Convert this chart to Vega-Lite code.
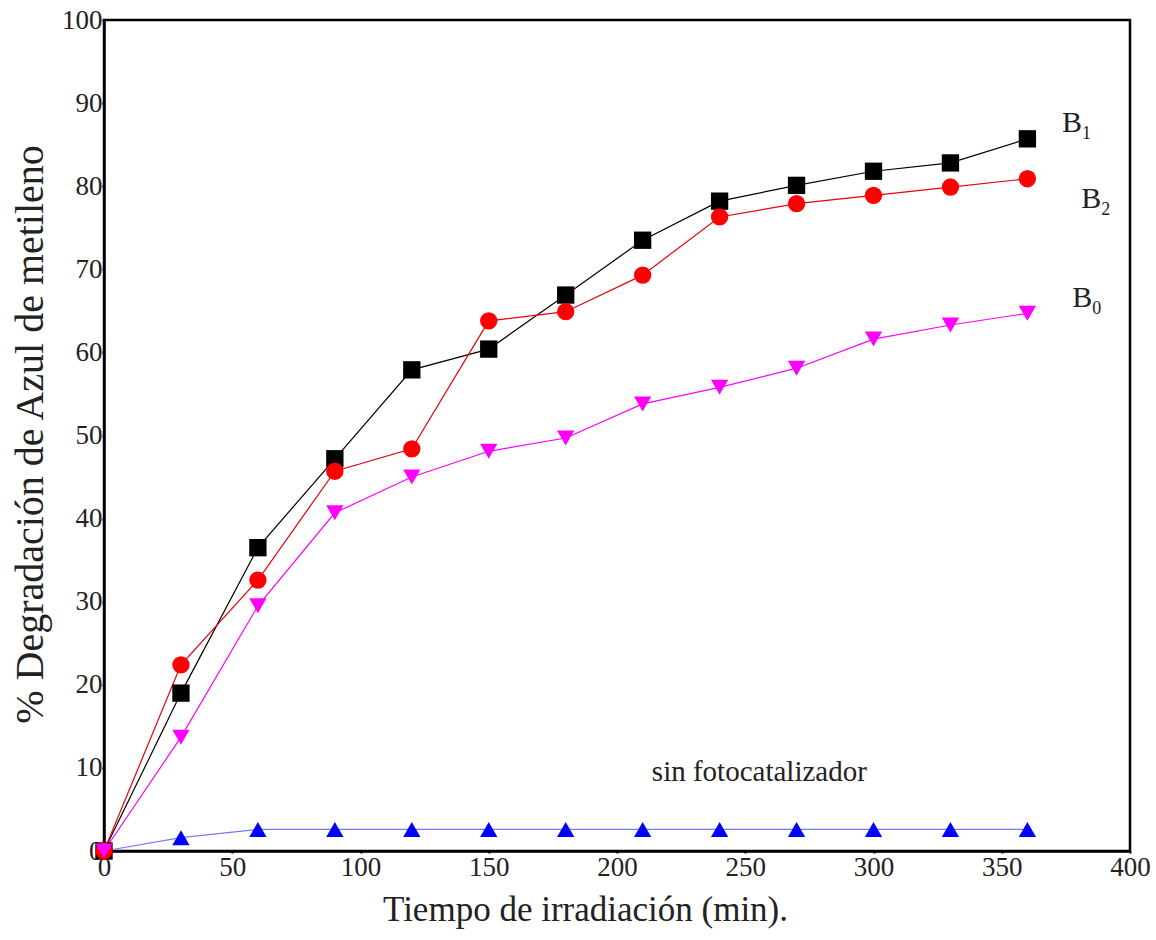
{
  "$schema": "https://vega.github.io/schema/vega-lite/v6.json",
  "width": 1026,
  "height": 831,
  "autosize": {"type": "none"},
  "padding": {"left": 104, "top": 20, "right": 26, "bottom": 89},
  "background": "white",
  "config": {
    "view": {"stroke": "black", "strokeWidth": 2.5},
    "font": "Liberation Serif",
    "axis": {
      "domainColor": "black",
      "domainWidth": 2.5,
      "grid": false,
      "ticks": true,
      "tickColor": "black",
      "tickSize": 2,
      "tickWidth": 2,
      "labelFlush": false,
      "labelOverlap": false,
      "labelFont": "Liberation Serif",
      "labelFontSize": 27,
      "labelColor": "#222",
      "titleFont": "Liberation Serif",
      "titleFontSize": 35,
      "titleFontWeight": "normal",
      "titleColor": "#222"
    }
  },
  "datasets": {
    "series": [
      {"t": 0, "v": 0, "s": "sin"}, {"t": 30, "v": 1.6, "s": "sin"}, {"t": 60, "v": 2.6, "s": "sin"}, {"t": 90, "v": 2.6, "s": "sin"}, {"t": 120, "v": 2.6, "s": "sin"}, {"t": 150, "v": 2.6, "s": "sin"}, {"t": 180, "v": 2.6, "s": "sin"}, {"t": 210, "v": 2.6, "s": "sin"}, {"t": 240, "v": 2.6, "s": "sin"}, {"t": 270, "v": 2.6, "s": "sin"}, {"t": 300, "v": 2.6, "s": "sin"}, {"t": 330, "v": 2.6, "s": "sin"}, {"t": 360, "v": 2.6, "s": "sin"},
      {"t": 0, "v": 0, "s": "B1"}, {"t": 30, "v": 19.0, "s": "B1"}, {"t": 60, "v": 36.5, "s": "B1"}, {"t": 90, "v": 47.2, "s": "B1"}, {"t": 120, "v": 57.9, "s": "B1"}, {"t": 150, "v": 60.4, "s": "B1"}, {"t": 180, "v": 66.9, "s": "B1"}, {"t": 210, "v": 73.5, "s": "B1"}, {"t": 240, "v": 78.2, "s": "B1"}, {"t": 270, "v": 80.1, "s": "B1"}, {"t": 300, "v": 81.8, "s": "B1"}, {"t": 330, "v": 82.8, "s": "B1"}, {"t": 360, "v": 85.7, "s": "B1"},
      {"t": 0, "v": 0, "s": "B2"}, {"t": 30, "v": 22.4, "s": "B2"}, {"t": 60, "v": 32.6, "s": "B2"}, {"t": 90, "v": 45.7, "s": "B2"}, {"t": 120, "v": 48.4, "s": "B2"}, {"t": 150, "v": 63.8, "s": "B2"}, {"t": 180, "v": 64.9, "s": "B2"}, {"t": 210, "v": 69.3, "s": "B2"}, {"t": 240, "v": 76.3, "s": "B2"}, {"t": 270, "v": 77.9, "s": "B2"}, {"t": 300, "v": 78.9, "s": "B2"}, {"t": 330, "v": 79.9, "s": "B2"}, {"t": 360, "v": 80.9, "s": "B2"},
      {"t": 0, "v": 0, "s": "B0"}, {"t": 30, "v": 13.7, "s": "B0"}, {"t": 60, "v": 29.5, "s": "B0"}, {"t": 90, "v": 40.7, "s": "B0"}, {"t": 120, "v": 45.0, "s": "B0"}, {"t": 150, "v": 48.1, "s": "B0"}, {"t": 180, "v": 49.7, "s": "B0"}, {"t": 210, "v": 53.8, "s": "B0"}, {"t": 240, "v": 55.8, "s": "B0"}, {"t": 270, "v": 58.1, "s": "B0"}, {"t": 300, "v": 61.6, "s": "B0"}, {"t": 330, "v": 63.3, "s": "B0"}, {"t": 360, "v": 64.7, "s": "B0"}
    ],
    "labels": [
      {"t": 373.5, "v": 87.6, "txt": "B", "sub": "1"},
      {"t": 381, "v": 78.5, "txt": "B", "sub": "2"},
      {"t": 377.5, "v": 66.5, "txt": "B", "sub": "0"}
    ],
    "note": [
      {"t": 255.5, "v": 9.5, "txt": "sin fotocatalizador"}
    ]
  },
  "layer": [
    {
      "data": {"name": "series"},
      "mark": {"type": "line", "strokeWidth": 1.2},
      "encoding": {
        "x": {"field": "t", "type": "quantitative", "scale": {"domain": [0, 400], "nice": false}, "axis": {"values": [0, 50, 100, 150, 200, 250, 300, 350, 400], "title": "Tiempo de irradiación (min).", "titlePadding": 12, "labelPadding": 1, "titleX": 481, "titleAnchor": "start", "titleAlign": "center"}},
        "y": {"field": "v", "type": "quantitative", "scale": {"domain": [0, 100], "nice": false}, "axis": {"values": [0, 10, 20, 30, 40, 50, 60, 70, 80, 90, 100], "title": "% Degradación de Azul de metileno", "titleFontSize": 40, "titleX": -74, "titleY": 414, "titleAngle": -90, "titleAlign": "center", "titleBaseline": "middle", "labelPadding": 0}},
        "detail": {"field": "s"},
        "stroke": {"field": "s", "type": "nominal", "scale": {"domain": ["B1", "B2", "B0", "sin"], "range": ["#000000", "#e8000b", "#ff00ff", "#7878ff"]}, "legend": null}
      }
    },
    {
      "data": {"name": "series"},
      "mark": {"type": "point", "filled": true, "opacity": 1, "size": 300},
      "encoding": {
        "x": {"field": "t", "type": "quantitative"},
        "y": {"field": "v", "type": "quantitative"},
        "fill": {"field": "s", "type": "nominal", "scale": {"domain": ["B1", "B2", "B0", "sin"], "range": ["#000000", "#ff0000", "#ff00ff", "#0000ff"]}, "legend": null},
        "shape": {"field": "s", "type": "nominal", "scale": {"domain": ["B1", "B2", "B0", "sin"], "range": ["square", "circle", "triangle-down", "triangle-up"]}, "legend": null}
      }
    },
    {
      "data": {"name": "labels"},
      "mark": {"type": "text", "font": "Liberation Serif", "fontSize": 30, "color": "#222", "align": "left", "baseline": "middle"},
      "encoding": {
        "x": {"field": "t", "type": "quantitative"},
        "y": {"field": "v", "type": "quantitative"},
        "text": {"field": "txt"}
      }
    },
    {
      "data": {"name": "labels"},
      "mark": {"type": "text", "font": "Liberation Serif", "fontSize": 18, "color": "#222", "align": "left", "baseline": "middle", "dx": 20, "dy": 11},
      "encoding": {
        "x": {"field": "t", "type": "quantitative"},
        "y": {"field": "v", "type": "quantitative"},
        "text": {"field": "sub"}
      }
    },
    {
      "data": {"name": "note"},
      "mark": {"type": "text", "font": "Liberation Serif", "fontSize": 29, "color": "#222", "align": "center", "baseline": "middle"},
      "encoding": {
        "x": {"field": "t", "type": "quantitative"},
        "y": {"field": "v", "type": "quantitative"},
        "text": {"field": "txt"}
      }
    }
  ]
}
